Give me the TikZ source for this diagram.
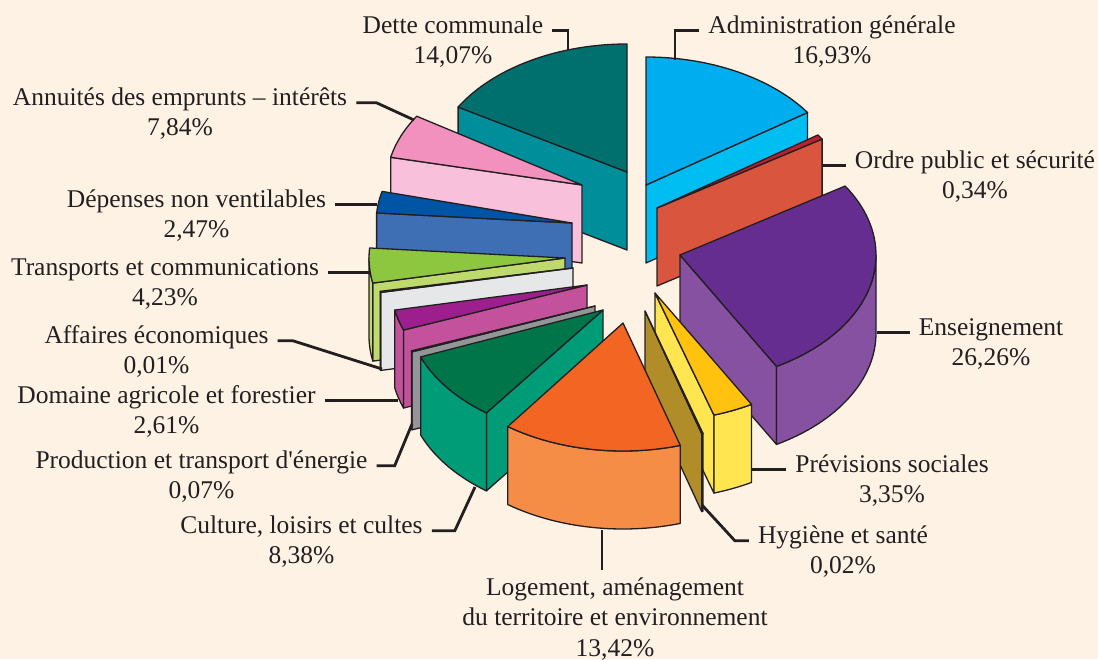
\documentclass[tikz,border=0pt]{standalone}
\usepackage{fontspec}
\setmainfont{Liberation Serif}
\usetikzlibrary{calc}

\definecolor{bgcream}{HTML}{FEF2E5}
\definecolor{ink}{HTML}{231F20}
\definecolor{detteTop}{HTML}{00706E}
\definecolor{detteSide}{HTML}{008E9A}
\definecolor{annTop}{HTML}{F291BE}
\definecolor{annSide}{HTML}{F8C0DA}
\definecolor{depTop}{HTML}{0054A5}
\definecolor{depSide}{HTML}{3E6FB5}
\definecolor{transTop}{HTML}{8DC63F}
\definecolor{transSide}{HTML}{BED96C}
\definecolor{affSide}{HTML}{E6E7E8}
\definecolor{domTop}{HTML}{9D1F8E}
\definecolor{domSide}{HTML}{C4519C}
\definecolor{prodSide}{HTML}{939598}
\definecolor{adminTop}{HTML}{00ADEE}
\definecolor{adminSide}{HTML}{00BEF2}
\definecolor{ordreTop}{HTML}{BE1E2D}
\definecolor{ordreSide}{HTML}{D9553D}
\definecolor{ensTop}{HTML}{652D90}
\definecolor{ensSide}{HTML}{8651A1}
\definecolor{prevTop}{HTML}{FFC20E}
\definecolor{prevSide}{HTML}{FFE54F}
\definecolor{hygSide}{HTML}{B08D29}
\definecolor{cultTop}{HTML}{00754A}
\definecolor{cultSide}{HTML}{009B77}
\definecolor{logTop}{HTML}{F26522}
\definecolor{logSide}{HTML}{F68D47}

% label text, baseline on its first line
\newcommand{\lines}[1]{\begin{tabular}[t]{@{}c@{}}#1\end{tabular}}

% one exploded slice: apex x, apex y (from top), start angle, end angle,
% top colour, side colour, name
\newcommand{\pieslice}[7]{%
  \coordinate (#7) at (#1,-#2);
  \pgfmathtruncatemacro{\pieSideA}{cos(#3)>0.001}%
  \pgfmathtruncatemacro{\pieSideB}{cos(#4)<-0.001}%
  \pgfmathsetmacro{\pieArcA}{max(#3,180)}%
  \pgfmathsetmacro{\pieArcB}{min(#4,360)}%
  \pgfmathtruncatemacro{\pieRim}{\pieArcA<\pieArcB}%
  \ifnum\pieSideA=1
    \filldraw[face,fill=#6] (#7) -- ++(#3:196pt and 128pt) -- ++(0,-78)
      -- ++(#3+180:196pt and 128pt) -- cycle;
  \fi
  \ifnum\pieSideB=1
    \filldraw[face,fill=#6] (#7) -- ++(#4:196pt and 128pt) -- ++(0,-78)
      -- ++(#4+180:196pt and 128pt) -- cycle;
  \fi
  \ifnum\pieRim=1
    \filldraw[face,fill=#6] ($(#7)+(\pieArcA:196pt and 128pt)$)
      arc[start angle=\pieArcA,end angle=\pieArcB,x radius=196pt,y radius=128pt]
      -- ++(0,-78)
      arc[start angle=\pieArcB,end angle=\pieArcA,x radius=196pt,y radius=128pt]
      -- cycle;
  \fi
  \filldraw[face,fill=#5] (#7) -- ++(#3:196pt and 128pt)
    arc[start angle=#3,end angle=#4,x radius=196pt,y radius=128pt] -- cycle;
}

\begin{document}
\begin{tikzpicture}[x=1pt,y=1pt,
  face/.style={draw=ink,line width=1.3pt,line join=round},
  lbl/.style={anchor=base,inner xsep=9pt,inner ysep=3pt,
    text=ink,font=\fontsize{25.5}{30.5}\selectfont},
  leader/.style={draw=ink,line width=2.8pt}]

  \fill[bgcream] (0,0) rectangle (1098,-659);
  \useasboundingbox (0,0) rectangle (1098,-659);

  % slices, back to front
  \pieslice{627}{172}{90}{149.5}{detteTop}{detteSide}{dette-s}
  \pieslice{582}{185}{147.5}{167.5}{annTop}{annSide}{ann-s}
  \pieslice{572}{223}{165.7}{175.5}{depTop}{depSide}{dep-s}
  \pieslice{565}{258}{175.5}{191.3}{transTop}{transSide}{trans-s}
  \pieslice{573}{268}{190.5}{191}{affSide}{affSide}{aff-s}
  \pieslice{587}{285}{191.3}{200.6}{domTop}{domSide}{dom-s}
  \pieslice{595}{306}{200.5}{201}{prodSide}{prodSide}{prod-s}
  \pieslice{646}{185}{34.5}{90}{adminTop}{adminSide}{admin-s}
  \pieslice{657}{208}{32.6}{34.8}{ordreTop}{ordreSide}{ordre-s}
  \pieslice{680}{255}{299.5}{392.6}{ensTop}{ensSide}{ens-s}
  \pieslice{655}{293}{287.5}{299.5}{prevTop}{prevSide}{prev-s}
  \pieslice{645}{311}{286.8}{287.2}{hygSide}{hygSide}{hyg-s}
  \pieslice{603}{310}{201.5}{233.5}{cultTop}{cultSide}{cult-s}
  \pieslice{623}{323}{234}{287}{logTop}{logSide}{log-s}

  % labels
  \node[lbl] (dette) at (453,-33) {\lines{Dette communale\\14,07\%}};
  \node[lbl] (admin) at (832,-33) {\lines{Administration générale\\16,93\%}};
  \node[lbl] (ordre) at (975,-168) {\lines{Ordre public et sécurité\\0,34\%}};
  \node[lbl] (ens) at (991,-335) {\lines{Enseignement\\26,26\%}};
  \node[lbl] (prev) at (892,-472) {\lines{Prévisions sociales\\3,35\%}};
  \node[lbl] (hyg) at (843,-543) {\lines{Hygiène et santé\\0,02\%}};
  \node[lbl] (log) at (615,-595) {\lines{Logement, aménagement\\du territoire et environnement\\13,42\%}};
  \node[lbl] (cult) at (301.5,-533) {\lines{Culture, loisirs et cultes\\8,38\%}};
  \node[lbl] (prod) at (201.5,-468) {\lines{Production et transport d\textquotesingle énergie\\0,07\%}};
  \node[lbl] (dom) at (166.5,-403) {\lines{Domaine agricole et forestier\\2,61\%}};
  \node[lbl] (aff) at (156.5,-343) {\lines{Affaires économiques\\0,01\%}};
  \node[lbl] (trans) at (165,-275) {\lines{Transports et communications\\4,23\%}};
  \node[lbl] (dep) at (196.5,-207) {\lines{Dépenses non ventilables\\2,47\%}};
  \node[lbl] (ann) at (180,-105) {\lines{Annuités des emprunts – intérêts\\7,84\%}};

  % leader ends on the slices
  \coordinate (dettept) at (568,-50);
  \coordinate (adminpt) at (675,-60);
  \coordinate (ordrept) at (822,-160);
  \coordinate (enspt) at (877,-300);
  \coordinate (prevpt) at (752,-460);
  \coordinate (hygpt) at (702,-505);
  \coordinate (logpt) at (602,-530);
  \coordinate (cultpt) at (475,-487);
  \coordinate (prodpt) at (412,-424);
  \coordinate (dompt) at (398,-398);
  \coordinate (affpt) at (382,-369);
  \coordinate (transpt) at (369,-270);
  \coordinate (deppt) at (377,-202);
  \coordinate (annpt) at (414,-120);

  \draw[leader] (dette.mid east) -| (dettept);
  \draw[leader] (admin.mid west) -| (adminpt);
  \draw[leader] (ordre.mid west) -- (ordre.mid west -| ordrept);
  \draw[leader] (ens.mid west) -- (ens.mid west -| enspt);
  \draw[leader] (prev.mid west) -- (prev.mid west -| prevpt);
  \draw[leader] (hyg.mid west) -- ++(-14,0) -- (hygpt);
  \draw[leader] (logpt) -- (logpt |- log.north);
  \draw[leader] (cult.mid east) -- ++(23,0) -- (cultpt);
  \draw[leader] (prod.mid east) -- ++(18,0) -- (prodpt);
  \draw[leader] (dom.mid east) -- (dom.mid east -| dompt);
  \draw[leader] (aff.mid east) -- ++(15,0) -- (affpt);
  \draw[leader] (trans.mid east) -- (trans.mid east -| transpt);
  \draw[leader] (dep.mid east) -- (dep.mid east -| deppt);
  \draw[leader] (ann.mid east) -- ++(20,0) -- (annpt);
\end{tikzpicture}
\end{document}
